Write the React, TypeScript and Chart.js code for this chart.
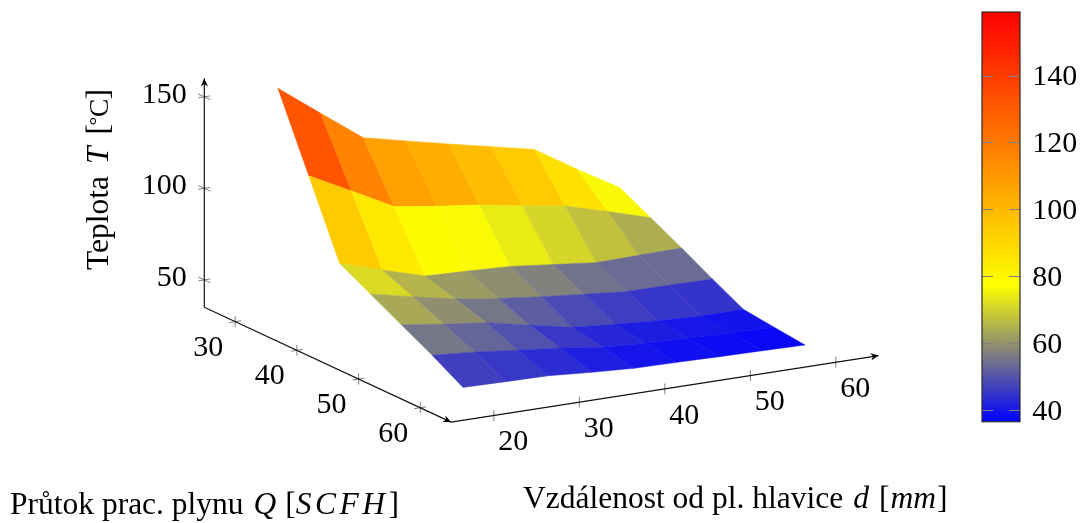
import React, { useEffect, useRef } from "react";
import { Chart, registerables } from "chart.js";

Chart.register(...registerables);

// ---------- data ----------
const distances = [20, 25, 30, 35, 40, 45, 50, 55, 60];
const flows = [30, 35, 40, 45, 50, 55, 60];
const tempQ30 = [158.9, 141.6, 124.6, 119.2, 113.9, 108.8, 103.7, 89.2, 75.5];
const tempQ35 = [119, 107, 94.8, 91.3, 88.4, 84.4, 80.6, 73.9, 66.9];
const tempQ40 = [78.9, 71.6, 64.7, 63.8, 62.7, 60.1, 57.5, 57.9, 58.2];
const tempQ45 = [70, 64.9, 60, 56.7, 54, 51.7, 49.5, 49.5, 49.1];
const tempQ50 = [61.1, 57.8, 54.9, 50, 45.1, 43.1, 41.4, 40.4, 40.4];
const tempQ55 = [52.2, 50.4, 47.7, 45.3, 42, 40.6, 39.7, 39.1, 38.4];
const tempQ60 = [42.5, 42, 41.6, 39.8, 38.4, 38, 37.5, 37.1, 36.6];
const temps = [tempQ30, tempQ35, tempQ40, tempQ45, tempQ50, tempQ55, tempQ60];

const distTicks = [20, 30, 40, 50, 60];
const flowTicks = [30, 40, 50, 60];
const tempTicks = [50, 100, 150];
const barTicks = [40, 60, 80, 100, 120, 140];

const colorMin = 36.5;
const colorMax = 159;
const dLim = [15, 65];
const qLim = [25, 65];
const tLim = [35, 160];

const W = 1084;
const H = 523;
const FONT = '"Liberation Serif", "Times New Roman", serif';
const FS = 30;
const TITLE_FS = 31.5;

// ---------- 3D view ----------
function project(d: number, q: number, t: number) {
  return {
    x: 204.3 + 6.17 * (q - qLim[0]) + 8.55 * (d - dLim[0]),
    y: 307.3 + 2.87 * (q - qLim[0]) - 1.33 * (d - dLim[0]) - 1.83 * (t - tLim[0]),
  };
}

function colormap(v: number) {
  const s = Math.max(0, Math.min(1, (v - colorMin) / (colorMax - colorMin)));
  if (s < 1 / 3) {
    const k = s * 3;
    const c = Math.round(255 * k);
    return `rgb(${c},${c},${Math.round(255 * (1 - k))})`;
  }
  const k = (s - 1 / 3) * 1.5;
  return `rgb(255,${Math.round(255 * (1 - k))},0)`;
}

type Run = { text: string; italic?: boolean; gap?: number; spacing?: number; size?: number; rise?: number };

function drawRuns(ctx: CanvasRenderingContext2D, runs: Run[], x: number, y: number, size: number) {
  let cx = x;
  for (const r of runs) {
    ctx.font = `${r.italic ? "italic " : ""}${r.size ?? size}px ${FONT}`;
    (ctx as any).letterSpacing = `${r.spacing ?? 0}px`;
    ctx.textAlign = "left";
    ctx.textBaseline = "alphabetic";
    ctx.fillText(r.text, cx, y - (r.rise ?? 0));
    cx += ctx.measureText(r.text).width + (r.gap ?? 0);
  }
  (ctx as any).letterSpacing = "0px";
}

const surfaceText = {
  id: "surfaceText",
  afterDatasetsDraw(chart: any) {
    const { ctx, scales } = chart;
    const px = (p: { x: number; y: number }) => ({
      x: scales.x.getPixelForValue(p.x),
      y: scales.y.getPixelForValue(p.y),
    });
    ctx.save();
    ctx.fillStyle = "#000";

    // arrow heads
    const head = (a: { x: number; y: number }, b: { x: number; y: number }) => {
      const A = px(a);
      const B = px(b);
      const ang = Math.atan2(B.y - A.y, B.x - A.x);
      ctx.save();
      ctx.translate(B.x, B.y);
      ctx.rotate(ang);
      ctx.beginPath();
      ctx.moveTo(0, 0);
      ctx.lineTo(-8, 3.6);
      ctx.lineTo(-5.5, 0);
      ctx.lineTo(-8, -3.6);
      ctx.closePath();
      ctx.fill();
      ctx.restore();
    };
    head(project(dLim[0], qLim[0], tLim[0]), project(dLim[0], qLim[0], tLim[1]));
    head(project(dLim[0], qLim[0], tLim[0]), project(dLim[0], qLim[1], tLim[0]));
    head(project(dLim[0], qLim[1], tLim[0]), project(dLim[1], qLim[1], tLim[0]));

    // tick labels
    ctx.font = `${FS}px ${FONT}`;
    ctx.textBaseline = "middle";
    ctx.textAlign = "right";
    for (const t of tempTicks) {
      const p = px(project(dLim[0], qLim[0], t));
      ctx.fillText(String(t), p.x - 17.6, p.y - 2);
    }
    ctx.textAlign = "center";
    for (const q of flowTicks) {
      const p = px(project(dLim[0], q, tLim[0]));
      ctx.fillText(String(q), p.x - 27, p.y + 26);
    }
    for (const d of distTicks) {
      const p = px(project(d, qLim[1], tLim[0]));
      ctx.fillText(String(d), p.x + 19.5, p.y + 27);
    }

    // axis titles
    drawRuns(
      ctx,
      [
        { text: "Průtok prac. plynu", gap: 10 },
        { text: "Q", italic: true, gap: 9 },
        { text: "[", gap: 0 },
        { text: "SCFH", italic: true, spacing: 3.5, gap: 0 },
        { text: "]" },
      ],
      10,
      514,
      TITLE_FS
    );
    drawRuns(
      ctx,
      [
        { text: "Vzdálenost od pl. hlavice", gap: 10 },
        { text: "d", italic: true, gap: 10 },
        { text: "[", gap: 1 },
        { text: "mm", italic: true, gap: 1 },
        { text: "]" },
      ],
      523,
      508,
      TITLE_FS
    );
    ctx.save();
    ctx.translate(108, 270);
    ctx.rotate(-Math.PI / 2);
    drawRuns(
      ctx,
      [
        { text: "Teplota", gap: 12 },
        { text: "T", italic: true, gap: 12 },
        { text: "[", gap: -1.5 },
        { text: "°", size: 22, rise: 4, gap: -0.5 },
        { text: "C", size: 28, gap: -1 },
        { text: "]" },
      ],
      0,
      0,
      TITLE_FS
    );
    ctx.restore();
    ctx.restore();
  },
};

const barFrame = {
  id: "barFrame",
  afterDatasetsDraw(chart: any) {
    const { ctx, chartArea: a, scales } = chart;
    ctx.save();
    ctx.strokeStyle = "rgb(128,128,128)";
    ctx.lineWidth = 1;
    for (const v of barTicks) {
      const y = Math.round(scales.y.getPixelForValue(v)) + 0.5;
      ctx.beginPath();
      ctx.moveTo(a.left, y);
      ctx.lineTo(a.left + 11, y);
      ctx.moveTo(a.right, y);
      ctx.lineTo(a.right - 11, y);
      ctx.stroke();
    }
    ctx.strokeStyle = "rgba(40,40,40,0.9)";
    ctx.lineWidth = 1.3;
    ctx.strokeRect(a.left, a.top, a.right - a.left, a.bottom - a.top);
    ctx.restore();
  },
};

function line(points: { x: number; y: number }[], color: string, width: number) {
  return {
    data: points,
    showLine: true,
    borderColor: color,
    borderWidth: width,
    pointRadius: 0,
    fill: false,
  };
}

function buildDatasets() {
  const cells: any[] = [];
  for (let i = 0; i < flows.length - 1; i++) {
    for (let j = 0; j < distances.length - 1; j++) {
      const corners = [
        [i, j],
        [i, j + 1],
        [i + 1, j + 1],
        [i + 1, j],
      ];
      const mean = corners.reduce((s, [a, b]) => s + temps[a][b], 0) / 4;
      const color = colormap(mean);
      const pts = corners.map(([a, b]) => project(distances[b], flows[a], temps[a][b]));
      pts.push(pts[0]);
      cells.push({
        data: pts,
        showLine: true,
        borderColor: color,
        borderWidth: 0.5,
        backgroundColor: color,
        pointRadius: 0,
        fill: "shape",
        tension: 0,
      });
    }
  }

  const gray = "rgb(128,128,128)";
  const axes: any[] = [
    line([project(dLim[0], qLim[0], tLim[0]), project(dLim[0], qLim[0], tLim[1])], "#111", 1.2),
    line([project(dLim[0], qLim[0], tLim[0]), project(dLim[0], qLim[1], tLim[0])], "#111", 1.2),
    line([project(dLim[0], qLim[1], tLim[0]), project(dLim[1], qLim[1], tLim[0])], "#111", 1.2),
  ];
  for (const t of tempTicks) {
    axes.push(line([project(dLim[0] - 0.7, qLim[0], t), project(dLim[0] + 0.7, qLim[0], t)], gray, 1));
    axes.push(line([project(dLim[0], qLim[0] - 1, t), project(dLim[0], qLim[0] + 1, t)], gray, 1));
  }
  for (const q of flowTicks) {
    axes.push(line([project(dLim[0], q, tLim[0] - 3), project(dLim[0], q, tLim[0] + 3)], gray, 1));
    axes.push(line([project(dLim[0] - 0.7, q, tLim[0]), project(dLim[0] + 0.7, q, tLim[0])], gray, 1));
  }
  for (const d of distTicks) {
    axes.push(line([project(d, qLim[1], tLim[0] - 3), project(d, qLim[1], tLim[0] + 3)], gray, 1));
  }
  // Chart.js paints the first dataset last: nearest cells go first.
  return [...axes, ...cells.reverse()];
}

export default function App() {
  const mainRef = useRef<HTMLCanvasElement>(null);
  const barRef = useRef<HTMLCanvasElement>(null);

  useEffect(() => {
    const main = new Chart(mainRef.current as HTMLCanvasElement, {
      type: "scatter",
      data: { datasets: buildDatasets() },
      options: {
        animation: false,
        responsive: false,
        events: [],
        layout: { padding: 0 },
        plugins: { legend: { display: false }, tooltip: { enabled: false } },
        scales: {
          x: { type: "linear", display: false, min: 0, max: W },
          y: { type: "linear", display: false, min: 0, max: H, reverse: true },
        },
      },
      plugins: [surfaceText],
    } as any);

    const bar = new Chart(barRef.current as HTMLCanvasElement, {
      type: "bar",
      data: {
        labels: ["T"],
        datasets: [
          {
            data: [[colorMin, colorMax]],
            barPercentage: 1,
            categoryPercentage: 1,
            borderWidth: 0,
            backgroundColor: (c: any) => {
              const { chart } = c;
              if (!chart.chartArea) return "#888";
              const y = chart.scales.y;
              const g = chart.ctx.createLinearGradient(
                0,
                y.getPixelForValue(colorMin),
                0,
                y.getPixelForValue(colorMax)
              );
              g.addColorStop(0, "rgb(0,0,255)");
              g.addColorStop(1 / 3, "rgb(255,255,0)");
              g.addColorStop(1, "rgb(255,0,0)");
              return g;
            },
          },
        ],
      },
      options: {
        animation: false,
        responsive: false,
        events: [],
        layout: { padding: { left: 32, top: 12, bottom: 101.3, right: 0 } },
        plugins: { legend: { display: false }, tooltip: { enabled: false } },
        scales: {
          x: { display: false },
          y: {
            position: "right",
            min: colorMin,
            max: colorMax,
            grid: { display: false },
            border: { display: false },
            afterBuildTicks: (s: any) => {
              s.ticks = barTicks.map((value) => ({ value }));
            },
            afterFit: (s: any) => {
              s.width = 64;
              s.paddingTop = 0;
              s.paddingBottom = 0;
            },
            ticks: {
              autoSkip: false,
              padding: 4.2,
              labelOffset: 2,
              color: "#000",
              font: { family: FONT, size: FS },
            },
          },
        },
      },
      plugins: [barFrame],
    } as any);

    return () => {
      main.destroy();
      bar.destroy();
    };
  }, []);

  return (
    <div style={{ position: "absolute", left: 0, top: 0, width: W, height: H, background: "#fff", overflow: "hidden" }}>
      <canvas ref={mainRef} width={W} height={H} style={{ position: "absolute", left: 0, top: 0 }} />
      <canvas ref={barRef} width={134} height={H} style={{ position: "absolute", left: 950, top: 0 }} />
    </div>
  );
}
